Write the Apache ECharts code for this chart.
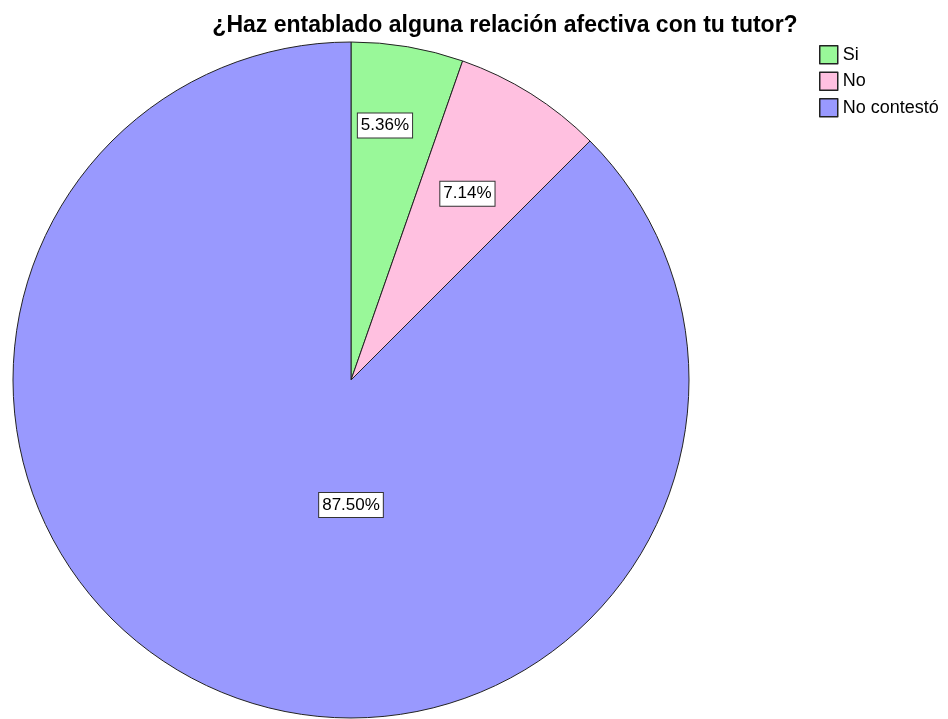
<!DOCTYPE html>
<html>
<head>
<meta charset="utf-8">
<script src="https://cdn.jsdelivr.net/npm/echarts@6/dist/echarts.min.js"></script>
<style>
html, body { margin: 0; padding: 0; background: #fff; }
#chart { width: 948px; height: 719px; }
</style>
</head>
<body>
<div id="chart"></div>
<script>
// datos del gráfico
const categories = ['Si', 'No', 'No contestó'];
const counts = [3, 4, 49];
const percentLabels = ['5.36%', '7.14%', '87.50%'];
const colors = ['#99F899', '#FFC0E0', '#9999FE'];

// posición de las etiquetas: ángulo (grados desde arriba) y fracción del radio
const labelAngles = [7.6, 32, 180];
const labelRadii = [0.76, 0.65, 0.37];

const cx = 351, cy = 380, radius = 338;

const chart = echarts.init(document.getElementById('chart'));

chart.setOption({
    animation: false,
    title: {
        text: '¿Haz entablado alguna relación afectiva con tu tutor?',
        left: 500,
        textAlign: 'center',
        top: 9,
        textStyle: {
            fontFamily: 'Liberation Sans',
            fontSize: 23,
            fontWeight: 'bold',
            color: '#000'
        }
    },
    legend: {
        orient: 'vertical',
        left: 814,
        top: 40,
        icon: 'rect',
        itemWidth: 18,
        itemHeight: 18,
        itemGap: 7,
        data: categories,
        itemStyle: {
            borderColor: '#222',
            borderWidth: 1.5
        },
        textStyle: {
            fontFamily: 'Liberation Sans',
            fontSize: 18,
            color: '#000',
            padding: [0, 0, 0, 0]
        }
    },
    series: [
        {
            type: 'pie',
            center: [cx, cy],
            radius: radius,
            startAngle: 90,
            clockwise: true,
            silent: true,
            itemStyle: {
                borderColor: '#222',
                borderWidth: 1
            },
            label: {
                show: true,
                position: 'inside',
                formatter: p => percentLabels[p.dataIndex],
                fontFamily: 'Liberation Sans',
                fontSize: 17,
                color: '#000',
                backgroundColor: '#fff',
                borderColor: '#333',
                borderWidth: 1,
                padding: [4, 3, 3, 3]
            },
            labelLine: { show: false },
            labelLayout: params => {
                const i = params.dataIndex;
                const a = labelAngles[i] * Math.PI / 180;
                const r = radius * labelRadii[i];
                return {
                    x: cx + r * Math.sin(a),
                    y: cy - r * Math.cos(a),
                    align: 'center',
                    verticalAlign: 'middle'
                };
            },
            data: categories.map((name, i) => ({
                name: name,
                value: counts[i],
                itemStyle: { color: colors[i] }
            }))
        }
    ]
});
</script>
</body>
</html>
